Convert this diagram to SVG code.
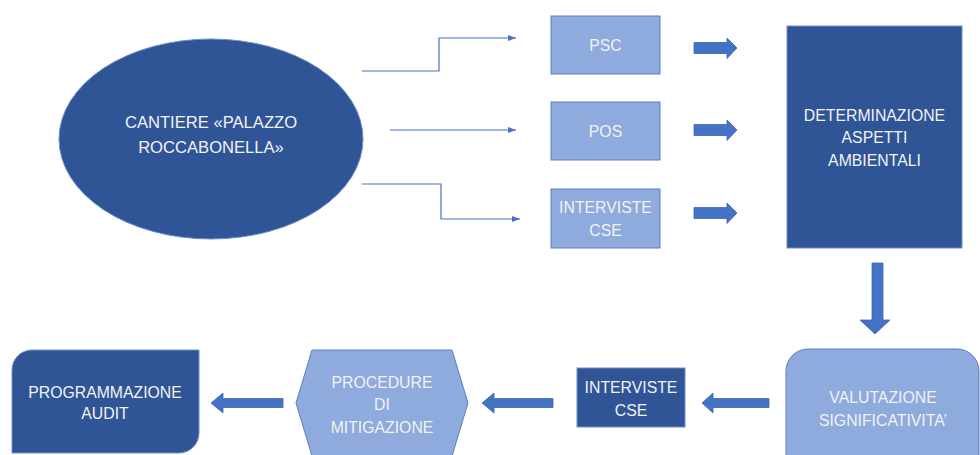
<svg xmlns="http://www.w3.org/2000/svg" width="980" height="455" viewBox="0 0 980 455">
<defs>
<style>
.dark{fill:#2F5597;stroke:#6F8FCB;stroke-width:1}
.light{fill:#8FAADC;stroke:#5B7EC0;stroke-width:1}
.t{font-family:"Liberation Sans",Arial,sans-serif;font-size:15.8px;fill:#F2F2F2;text-anchor:middle;dominant-baseline:central}
.conn{fill:none;stroke:#4472C4;stroke-width:1.2}
.blk{fill:#4472C4;stroke:#3A66B5;stroke-width:0.8}
</style>
<marker id="ah" markerWidth="8" markerHeight="6" refX="8" refY="3" orient="auto" markerUnits="userSpaceOnUse">
<path d="M0,0 L8,3 L0,6 Z" fill="#4472C4"/>
</marker>
</defs>
<rect width="980" height="455" fill="#FFFFFF"/>

<g id="cantiere">
<ellipse class="dark" cx="211" cy="139" rx="152" ry="100"/>
<text class="t" style="font-size:16.6px" x="211" y="122">CANTIERE «PALAZZO</text>
<text class="t" style="font-size:16.6px" x="211" y="147">ROCCABONELLA»</text>
</g>

<g id="psc">
<rect class="light" x="551" y="16" width="109" height="58"/>
<text class="t" x="605.5" y="45">PSC</text>
</g>
<g id="pos">
<rect class="light" x="551" y="102" width="109" height="58"/>
<text class="t" x="605.5" y="131">POS</text>
</g>
<g id="interviste1">
<rect class="light" x="551" y="189" width="109" height="59"/>
<text class="t" x="605.5" y="207">INTERVISTE</text>
<text class="t" x="605.5" y="230">CSE</text>
</g>

<g id="determinazione">
<rect class="dark" x="787" y="26" width="175" height="222"/>
<text class="t" x="874.5" y="115">DETERMINAZIONE</text>
<text class="t" x="874.5" y="137">ASPETTI</text>
<text class="t" x="874.5" y="160">AMBIENTALI</text>
</g>

<g id="valutazione">
<rect class="light" x="786" y="349" width="193" height="130" rx="22" ry="22"/>
<text class="t" x="883" y="397">VALUTAZIONE</text>
<text class="t" x="883" y="420">SIGNIFICATIVITA’</text>
</g>

<g id="interviste2">
<rect class="dark" x="577" y="368" width="108" height="59"/>
<text class="t" x="631" y="387">INTERVISTE</text>
<text class="t" x="631" y="410">CSE</text>
</g>

<g id="procedure">
<polygon class="light" points="296,403 312,350 452,350 468,403 452,456 312,456"/>
<text class="t" x="382" y="382">PROCEDURE</text>
<text class="t" x="382" y="404">DI</text>
<text class="t" x="382" y="427">MITIGAZIONE</text>
</g>

<g id="programmazione">
<path class="dark" d="M32,350 H199 V433 A20,20 0 0 1 179,453 H12 V370 A20,20 0 0 1 32,350 Z"/>
<text class="t" x="105" y="392">PROGRAMMAZIONE</text>
<text class="t" x="105" y="413">AUDIT</text>
</g>

<g id="connectors">
<path class="conn" d="M362,71 H439 V38 H516" marker-end="url(#ah)"/>
<path class="conn" d="M390,130 H516" marker-end="url(#ah)"/>
<path class="conn" d="M362,184 H441 V219 H520" marker-end="url(#ah)"/>
<path class="blk" d="M694,42.5 H727 V38 L737,48 L727,58.5 V53.5 H694 Z"/>
<path class="blk" d="M694,124.5 H727 V120 L737,130 L727,140.5 V135.5 H694 Z"/>
<path class="blk" d="M694,207.5 H727 V203 L737,213 L727,223.5 V218.5 H694 Z"/>
<path class="blk" d="M872,263 V320 H860 L875,334 L890,320 H883 V263 Z"/>
<path class="blk" d="M769,398.5 V407.5 H713 V413 L702,403 L713,393 V398.5 Z"/>
<path class="blk" d="M553,398.5 V407.5 H494 V413 L482,403 L494,393 V398.5 Z"/>
<path class="blk" d="M283,398.5 V407.5 H223 V413 L211,403 L223,393 V398.5 Z"/>
</g>
</svg>
